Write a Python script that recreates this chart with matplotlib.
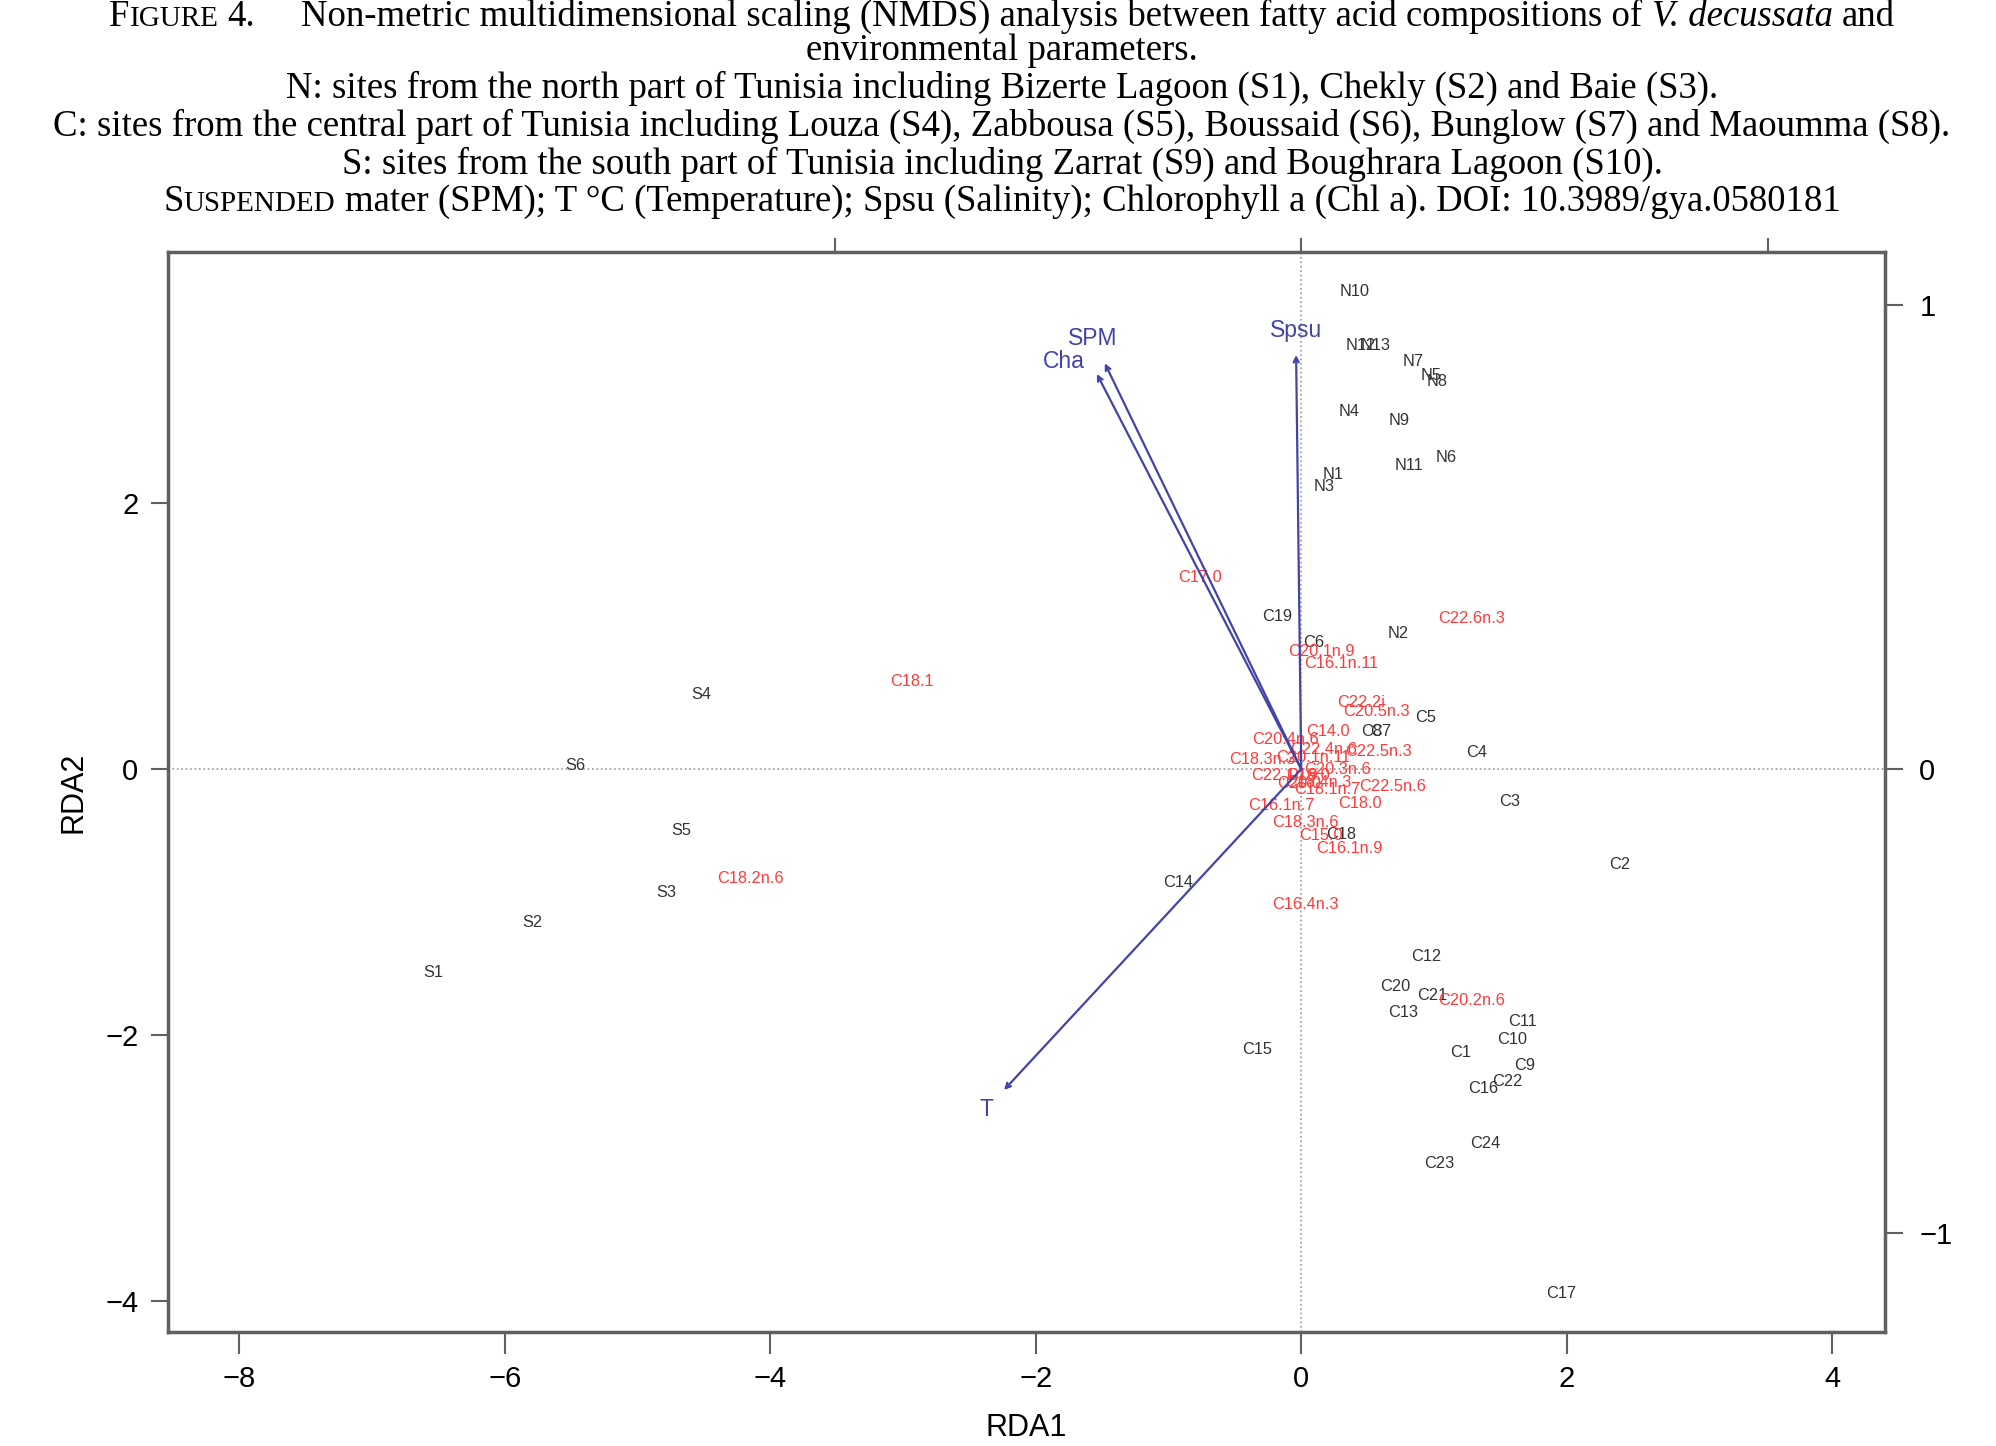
import matplotlib
matplotlib.use('Agg')
import matplotlib.pyplot as plt

# ---- data (site scores, species scores, env arrows) ----
site_labels = ['N10', 'N12', 'N13', 'N7', 'N5', 'N8', 'N4', 'N9', 'N11', 'N6', 'N1', 'N3', 'N2',
               'C19', 'C6', 'C5', 'C8', 'C7', 'C4', 'C3', 'C2', 'C18', 'C14', 'C12', 'C20',
               'C21', 'C13', 'C11', 'C10', 'C1', 'C9', 'C22', 'C16', 'C15', 'C24', 'C23', 'C17',
               'S4', 'S6', 'S5', 'S3', 'S2', 'S1']
site_x = [0.40, 0.45, 0.56, 0.84, 0.98, 1.02, 0.36, 0.74, 0.81, 1.09, 0.24, 0.17, 0.73,
          -0.18, 0.09, 0.94, 0.53, 0.60, 1.32, 1.57, 2.40, 0.30, -0.93, 0.94, 0.71,
          0.99, 0.77, 1.67, 1.59, 1.20, 1.68, 1.55, 1.37, -0.33, 1.39, 1.04, 1.96,
          -4.52, -5.47, -4.67, -4.78, -5.79, -6.54]
site_y = [3.59, 3.18, 3.18, 3.06, 2.96, 2.91, 2.69, 2.62, 2.28, 2.34, 2.21, 2.12, 1.02,
          1.15, 0.95, 0.39, 0.28, 0.28, 0.125, -0.24, -0.72, -0.49, -0.85, -1.41, -1.63,
          -1.70, -1.83, -1.90, -2.03, -2.13, -2.23, -2.35, -2.40, -2.11, -2.81, -2.96, -3.94,
          0.56, 0.03, -0.46, -0.93, -1.15, -1.53]

fa_labels = ['C17.0', 'C22.6n.3', 'C20.1n.9', 'C16.1n.11', 'C18.1', 'C22.2i', 'C20.5n.3',
             'C14.0', 'C20.4n.6', 'C22.4n.6', 'C22.5n.3', 'C18.3n.3', 'C20.1n.11', 'C20.3n.6',
             'C22.1n.9', 'C16.0', 'C18.4n.3', 'C22.5n.6', 'C18.1n.7', 'C20.0', 'C16.1n.7',
             'C18.0', 'C18.3n.6', 'C15.0', 'C16.1n.9', 'C18.2n.6', 'C16.4n.3', 'C20.2n.6']
fa_x = [-0.76, 1.28, 0.15, 0.30, -2.93, 0.45, 0.57,
        0.20, -0.12, 0.17, 0.58, -0.29, 0.09, 0.27,
        -0.13, 0.05, 0.13, 0.69, 0.20, -0.02, -0.15,
        0.44, 0.03, 0.15, 0.36, -4.15, 0.03, 1.28]
fa_y = [1.44, 1.13, 0.885, 0.79, 0.66, 0.50, 0.43,
        0.28, 0.22, 0.15, 0.13, 0.07, 0.09, 0.00,
        -0.05, -0.05, -0.10, -0.13, -0.15, -0.11, -0.27,
        -0.26, -0.40, -0.50, -0.60, -0.82, -1.02, -1.74]

# environmental arrows in biplot units (right / top axes)
env_labels = ['Spsu', 'SPM', 'Cha', 'T']
env_x = [-0.011, -0.421, -0.438, -0.637]
env_y = [0.893, 0.875, 0.852, -0.692]

caption = [
    'Non-metric multidimensional scaling (NMDS) analysis between fatty acid compositions of',
    'environmental parameters.',
    'N: sites from the north part of Tunisia including Bizerte Lagoon (S1), Chekly (S2) and Baie (S3).',
    'C: sites from the central part of Tunisia including Louza (S4), Zabbousa (S5), Boussaid (S6), Bunglow (S7) and Maoumma (S8).',
    'S: sites from the south part of Tunisia including Zarrat (S9) and Boughrara Lagoon (S10).',
    'mater (SPM); T \u00b0C (Temperature); Spsu (Salinity); Chlorophyll a (Chl a). DOI: 10.3989/gya.0580181',
]

W, H = 1996, 1446
fig = plt.figure(figsize=(W / 100, H / 100), dpi=100)
sans = 'Liberation Sans'
serif = 'Liberation Serif'
frame_col = '#606060'
arrow_col = '#4343a8'

ax = fig.add_axes([0.084, 0.0788, 0.8602, 0.7469])
ax.set_xlim(-8.54, 4.395)
ax.set_ylim(-4.23, 3.885)
ax.set_xticks([-8, -6, -4, -2, 0, 2, 4])
ax.set_yticks([-4, -2, 0, 2])
ax.set_xticklabels(['\u22128', '\u22126', '\u22124', '\u22122', '0', '2', '4'])
ax.set_yticklabels(['\u22124', '\u22122', '0', '2'])
ax.tick_params(axis='x', length=16, width=1.5, color=frame_col, pad=8, labelsize=21)
ax.tick_params(axis='y', length=12, width=1.5, color=frame_col, pad=9, labelsize=21)
for lab in ax.get_xticklabels() + ax.get_yticklabels():
    lab.set_family(sans)
for sp in ax.spines.values():
    sp.set_color(frame_col)
    sp.set_linewidth(2.5)
ax.set_xlabel('RDA1', family=sans, fontsize=22, labelpad=14)
ax.set_ylabel('RDA2', family=sans, fontsize=22, labelpad=12)

ax.axhline(0, color='#9a9a9a', lw=1.2, ls=':', zorder=1)
ax.axvline(0, color='#9a9a9a', lw=1.2, ls=':', zorder=1)

for lab, x, y in zip(site_labels, site_x, site_y):
    ax.text(x, y, lab, ha='center', va='center', fontsize=11.8, family=sans,
            color='#333333', zorder=3)
for lab, x, y in zip(fa_labels, fa_x, fa_y):
    ax.text(x, y, lab, ha='center', va='center', fontsize=11.8, family=sans,
            color='#ff3a3a', zorder=4)

# biplot axes for the arrows (own scale on top/right)
kx, ky = 0.2845, 0.287
ax_b = fig.add_axes(ax.get_position(), frameon=False)
ax_b.set_xlim(-8.54 * kx, 4.395 * kx)
ax_b.set_ylim(-4.23 * ky, 3.885 * ky)
ax_b.xaxis.tick_top()
ax_b.yaxis.tick_right()
ax_b.set_xticks([-1, 0, 1])
ax_b.set_xticklabels([])
ax_b.set_yticks([-1, 0, 1])
ax_b.set_yticklabels(['\u22121', '0', '1'])
ax_b.tick_params(axis='x', length=10, width=1.5, color=frame_col)
ax_b.tick_params(axis='y', length=13, width=1.5, color=frame_col, pad=12, labelsize=21)
for lab in ax_b.get_yticklabels():
    lab.set_family(sans)

for lab, x, y in zip(env_labels, env_x, env_y):
    ax_b.annotate('', xy=(x, y), xytext=(0, 0),
                  arrowprops=dict(arrowstyle='->', color=arrow_col, lw=1.6,
                                  shrinkA=0, shrinkB=0, mutation_scale=9), zorder=5)
    if lab == 'Cha':
        ax_b.text(x * 1.06, y * 1.06, lab, ha='right', va='top', fontsize=16.5,
                  family=sans, color=arrow_col, zorder=6)
    else:
        ax_b.text(x * 1.06, y * 1.06, lab, ha='center', va='center', fontsize=16.5,
                  family=sans, color=arrow_col, zorder=6)

# ---- caption (with small caps emulation) ----
renderer = fig.canvas.get_renderer()
fs = 26.5
sc = 21


def caption_line(parts, ybase, xcenter=0.502):
    texts, gaps = [], []
    for s, size, style, gap in parts:
        t = fig.text(0, ybase, s, fontsize=size, fontstyle=style, family=serif,
                     va='baseline', ha='left')
        texts.append(t)
        gaps.append(gap * fs * 100 / 72)
    widths = [t.get_window_extent(renderer).width for t in texts]
    total = sum(widths) + sum(gaps[:-1])
    x = xcenter * W - total / 2
    for t, w, g in zip(texts, widths, gaps):
        t.set_x(x / W)
        x += w + g


sp = 0.25
caption_line([('F', fs, 'normal', 0), ('IGURE', sc, 'normal', sp), ('4.', fs, 'normal', 1.25),
              (caption[0], fs, 'normal', sp), ('V. decussata', fs, 'italic', sp),
              ('and', fs, 'normal', 0)], 1 - 26 / H)
caption_line([(caption[1], fs, 'normal', 0)], 1 - 60 / H)
caption_line([(caption[2], fs, 'normal', 0)], 1 - 98 / H)
caption_line([(caption[3], fs, 'normal', 0)], 1 - 136 / H)
caption_line([(caption[4], fs, 'normal', 0)], 1 - 174 / H)
caption_line([('S', fs, 'normal', 0), ('USPENDED', sc, 'normal', sp),
              (caption[5], fs, 'normal', 0)], 1 - 211 / H)

fig.savefig('out.png', dpi=100)
